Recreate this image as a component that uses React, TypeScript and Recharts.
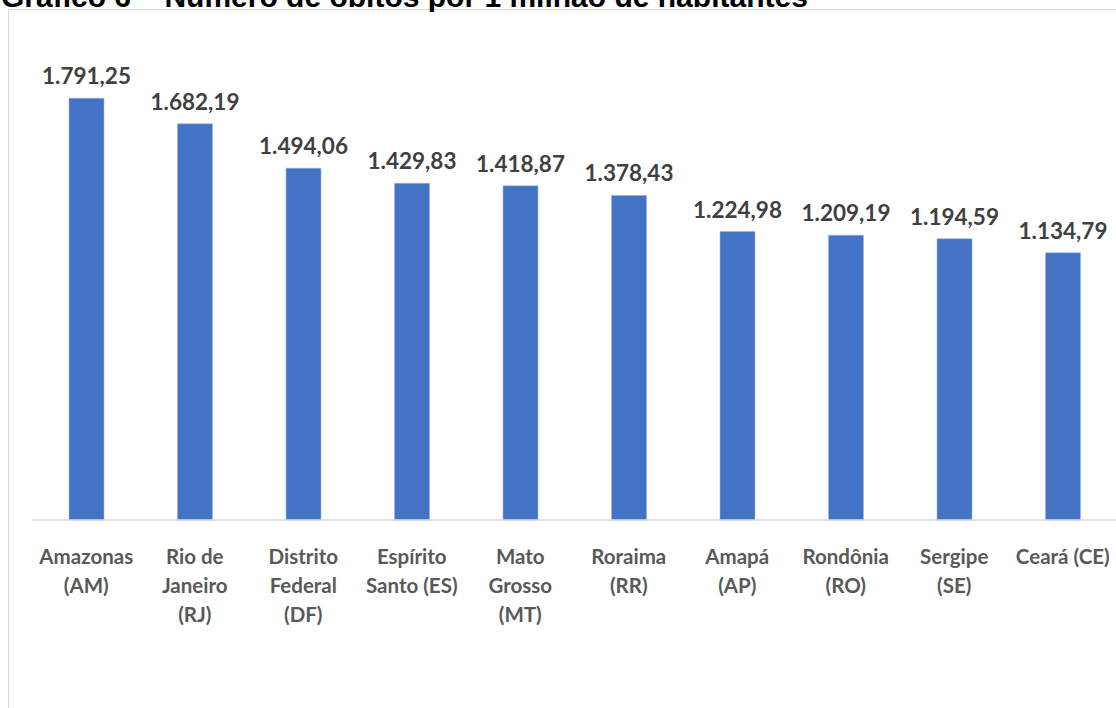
import { BarChart, Bar, XAxis, YAxis, LabelList, ReferenceLine } from "recharts";

const categories = [
  "Amazonas (AM)",
  "Rio de Janeiro (RJ)",
  "Distrito Federal (DF)",
  "Espírito Santo (ES)",
  "Mato Grosso (MT)",
  "Roraima (RR)",
  "Amapá (AP)",
  "Rondônia (RO)",
  "Sergipe (SE)",
  "Ceará (CE)",
];

// how the category names wrap under the bars
const tickLines = [
  ["Amazonas", "(AM)"],
  ["Rio de", "Janeiro", "(RJ)"],
  ["Distrito", "Federal", "(DF)"],
  ["Espírito", "Santo (ES)"],
  ["Mato", "Grosso", "(MT)"],
  ["Roraima", "(RR)"],
  ["Amapá", "(AP)"],
  ["Rondônia", "(RO)"],
  ["Sergipe", "(SE)"],
  ["Ceará (CE)"],
];

const obitos = [1791.25, 1682.19, 1494.06, 1429.83, 1418.87, 1378.43, 1224.98, 1209.19, 1194.59, 1134.79];

const data = categories.map((name, i) => ({ name, lines: tickLines[i], value: obitos[i] }));

const fmt = (v: number) =>
  v.toLocaleString("pt-BR", { minimumFractionDigits: 2, maximumFractionDigits: 2 });

const FONT = "Lato, 'Open Sans', sans-serif";

function CategoryTick(props: any) {
  const { x, y, index } = props;
  const lines = tickLines[index] ?? [];
  return (
    <text
      x={x}
      y={y}
      textAnchor="middle"
      fill="#595959"
      fontFamily={FONT}
      fontWeight={700}
      fontSize={20.5}
    >
      {lines.map((l, i) => (
        <tspan key={i} x={x} dy={i === 0 ? 36 : 29}>
          {l}
        </tspan>
      ))}
    </text>
  );
}

export default function App() {
  return (
    <div
      style={{
        position: "fixed",
        top: 0,
        left: 0,
        width: 1116,
        height: 708,
        overflow: "hidden",
        background: "#fff",
      }}
    >
      <div
        style={{
          position: "absolute",
          left: 8,
          top: 9,
          width: 1200,
          height: 800,
          border: "1px solid #d9d9d9",
        }}
      />
      <svg style={{ position: "absolute", left: 0, top: 0 }} width={1116} height={12}>
        <text
          x={1}
          y={7}
          fontFamily="'Liberation Sans', Arial, sans-serif"
          fontWeight={700}
          fontSize={30}
          fill="#000"
        >
          Gráfico 6 – Número de óbitos por 1 milhão de habitantes
        </text>
      </svg>
      <div style={{ position: "absolute", left: 0, top: 0 }}>
        <BarChart
          width={1118}
          height={708}
          data={data}
          margin={{ top: 49, right: 1, bottom: 88, left: 32 }}
          barSize={35}
        >
          <XAxis
            dataKey="name"
            height={100}
            interval={0}
            tickLine={false}
            axisLine={false}
            tick={<CategoryTick />}
          />
          <YAxis hide domain={[0, 2000]} />
          <ReferenceLine y={0} stroke="#d9d9d9" strokeWidth={1.5} />
          <Bar dataKey="value" fill="#4472C4" stroke="#9fb6e0" strokeWidth={0.6} isAnimationActive={false}>
            <LabelList
              dataKey="value"
              position="top"
              offset={14}
              formatter={(v: any) => fmt(Number(v))}
              fill="#404040"
              fontFamily={FONT}
              fontWeight={700}
              fontSize={22.5}
            />
          </Bar>
        </BarChart>
      </div>
    </div>
  );
}
